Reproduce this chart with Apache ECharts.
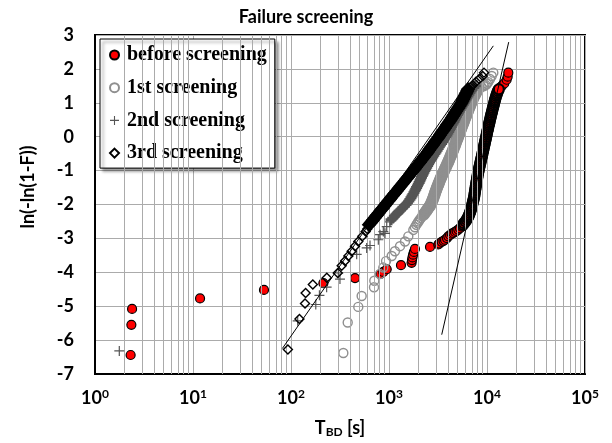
<!DOCTYPE html>
<html>
<head>
<meta charset="utf-8">
<script src="https://cdn.jsdelivr.net/npm/echarts@6/dist/echarts.min.js"></script>
<style>
  html, body { margin: 0; padding: 0; background: #fff; }
  #chart { width: 612px; height: 443px; }
</style>
</head>
<body>
<div id="chart"></div>
<script>
// Weibull plot of breakdown times: [T_BD (s), ln(-ln(1-F))]
// Each sample is split into its isolated points and the crowded middle run,
// which is drawn with heavier outlines so the overlapping markers read as a band.
const beforeScreening = [
  [2.31,-6.44],[2.35,-5.55],[2.39,-5.08],[11.8,-4.77],[53,-4.52],[214,-4.32],[450,-4.17],
  [820,-4.05],[875,-3.99],[948,-3.91],[1325,-3.79],[1700,-3.72],[1715,-3.64],[1735,-3.56],
  [1760,-3.48],[1795,-3.40],[1840,-3.31],[2620,-3.25],[3185,-3.18],[3260,-3.15],[3450,-3.10],
  [3600,-3.07],[3727,-3.04],[3900,-2.99],[4030,-2.94],[4200,-2.90],[4365,-2.86],[4540,-2.84],
  [4710,-2.81],[4900,-2.78],[5095,-2.74],[5300,-2.70],[5520,-2.65],
  [13600,1.45],[14200,1.50],[15000,1.57],[15860,1.68],[16250,1.77],[16500,1.89]
];
const beforeScreeningDense = [
  [5680,-2.60],[5830,-2.55],[6030,-2.50],[6190,-2.45],[6330,-2.40],[6470,-2.35],[6580,-2.30],
  [6680,-2.25],[6770,-2.20],[6860,-2.15],[6950,-2.10],[7020,-2.05],[7085,-2.00],[7150,-1.95],
  [7215,-1.90],[7290,-1.85],[7370,-1.80],[7415,-1.75],[7460,-1.70],[7505,-1.65],[7550,-1.60],
  [7600,-1.55],[7650,-1.50],[7700,-1.45],[7750,-1.40],[7800,-1.35],[7855,-1.30],[7910,-1.25],
  [7965,-1.20],[8020,-1.15],[8080,-1.10],[8140,-1.05],[8210,-1.00],[8285,-0.95],[8360,-0.90],
  [8435,-0.85],[8510,-0.80],[8590,-0.75],[8670,-0.70],[8750,-0.65],[8830,-0.60],[8910,-0.55],
  [8990,-0.50],[9070,-0.45],[9150,-0.40],[9230,-0.35],[9310,-0.30],[9390,-0.25],[9475,-0.20],
  [9560,-0.15],[9645,-0.10],[9730,-0.05],[9815,0.00],[9900,0.05],[9985,0.10],[10070,0.15],
  [10160,0.20],[10250,0.25],[10340,0.30],[10440,0.35],[10540,0.40],[10640,0.45],[10740,0.50],
  [10840,0.55],[10945,0.60],[11050,0.65],[11160,0.70],[11270,0.75],[11380,0.80],[11500,0.85],
  [11620,0.90],[11740,0.95],[11860,1.00],[11980,1.05],[12110,1.10],[12250,1.15],[12400,1.20],
  [12560,1.25],[12740,1.30],[12950,1.35],[13200,1.40]
];

const firstScreening = [
  [342,-6.38],[379,-5.48],[486,-5.02],[526,-4.70],[703,-4.44],[708,-4.25],[809,-4.05],
  [875,-3.86],[933,-3.67],[1065,-3.52],[1150,-3.38],[1295,-3.23],[1456,-3.09],[1574,-2.94],
  [1771,-2.75],[1840,-2.67],[1900,-2.60],[1950,-2.55],[2000,-2.50],[2055,-2.45],[2115,-2.40],
  [2185,-2.35],
  [8400,1.45],[8800,1.47],[9300,1.49],[9700,1.52],[10000,1.56],[10310,1.61],[10740,1.70],
  [11170,1.79],[11600,1.89]
];
const firstScreeningDense = [
  [2255,-2.30],[2325,-2.25],[2390,-2.20],[2455,-2.15],[2530,-2.10],[2600,-2.05],[2655,-2.00],
  [2710,-1.95],[2755,-1.90],[2800,-1.85],[2842,-1.80],[2880,-1.75],[2920,-1.70],[2958,-1.65],
  [3000,-1.60],[3043,-1.55],[3090,-1.50],[3140,-1.45],[3190,-1.40],[3240,-1.35],[3290,-1.30],
  [3345,-1.25],[3400,-1.20],[3460,-1.15],[3525,-1.10],[3592,-1.05],[3660,-1.00],[3728,-0.95],
  [3795,-0.90],[3865,-0.85],[3935,-0.80],[4010,-0.75],[4080,-0.70],[4148,-0.65],[4215,-0.60],
  [4285,-0.55],[4355,-0.50],[4425,-0.45],[4495,-0.40],[4565,-0.35],[4635,-0.30],[4705,-0.25],
  [4775,-0.20],[4848,-0.15],[4925,-0.10],[5000,-0.05],[5075,0.00],[5150,0.05],[5228,0.10],
  [5305,0.15],[5383,0.20],[5460,0.25],[5540,0.30],[5625,0.35],[5715,0.40],[5805,0.45],
  [5895,0.50],[5985,0.55],[6080,0.60],[6175,0.65],[6270,0.70],[6370,0.75],[6470,0.80],
  [6575,0.85],[6680,0.90],[6790,0.95],[6900,1.00],[7020,1.05],[7150,1.10],[7280,1.15],
  [7420,1.20],[7570,1.25],[7730,1.30],[7900,1.35],[8080,1.40]
];

const secondScreening = [
  [1.77,-6.32],[117,-5.43],[179,-4.95],[195,-4.68],[231,-4.44],[316,-4.20],[304,-4.02],
  [468,-3.47],[592,-3.28],[640,-3.21],[778,-3.04],[810,-2.89],[910,-2.85],[875,-2.80],
  [948,-2.65],[1024,-2.51]
];
const secondScreeningDense = [
  [1050,-2.45],[1092,-2.40],[1135,-2.35],[1180,-2.30],[1224,-2.25],[1270,-2.20],[1322,-2.15],
  [1378,-2.10],[1436,-2.05],[1490,-2.00],[1540,-1.95],[1592,-1.90],[1635,-1.85],[1676,-1.80],
  [1716,-1.75],[1756,-1.70],[1796,-1.65],[1835,-1.60],[1874,-1.55],[1912,-1.50],[1951,-1.45],
  [1990,-1.40],[2030,-1.35],[2068,-1.30],[2106,-1.25],[2146,-1.20],[2187,-1.15],[2228,-1.10],
  [2272,-1.05],[2320,-1.00],[2371,-0.95],[2424,-0.90],[2478,-0.85],[2535,-0.80],[2595,-0.75],
  [2658,-0.70],[2725,-0.65],[2795,-0.60],[2866,-0.55],[2940,-0.50],[3015,-0.45],[3095,-0.40],
  [3175,-0.35],[3258,-0.30],[3345,-0.25],[3440,-0.20],[3540,-0.15],[3640,-0.10],[3725,-0.05],
  [3810,0.00],[3895,0.05],[3980,0.10],[4065,0.15],[4148,0.20],[4230,0.25],[4320,0.30],
  [4410,0.35],[4505,0.40],[4600,0.45],[4690,0.50],[4785,0.55],[4880,0.60],[4985,0.65],
  [5095,0.70],[5205,0.75],[5320,0.80],[5445,0.85],[5575,0.90],[5705,0.95],[5840,1.00],
  [5970,1.05],[6100,1.10],[6240,1.15],[6385,1.20],[6530,1.25],[6690,1.30],[6860,1.35],
  [7050,1.40],[7330,1.45],[7600,1.50]
];

const thirdScreening = [
  [93,-6.28],[122,-5.38],[139,-4.92],[141,-4.61],[167,-4.36],[232,-4.16],[300,-4.02],
  [329,-3.81],[356,-3.67],[385,-3.52],[416,-3.38],[450,-3.23],[486,-3.09],[535,-2.94],
  [578,-2.80],[600,-2.72],
  [6750,1.46],[7150,1.52],[7720,1.62],[8340,1.70],[9040,1.79],[9320,1.89]
];
const thirdScreeningDense = [
  [625,-2.60],[646,-2.55],[668,-2.50],[690,-2.45],[713,-2.40],[736,-2.35],[760,-2.30],
  [785,-2.25],[811,-2.20],[838,-2.15],[866,-2.10],[894,-2.05],[923,-2.00],[954,-1.95],
  [986,-1.90],[1018,-1.85],[1050,-1.80],[1085,-1.75],[1122,-1.70],[1160,-1.65],[1198,-1.60],
  [1238,-1.55],[1279,-1.50],[1321,-1.45],[1364,-1.40],[1409,-1.35],[1456,-1.30],[1503,-1.25],
  [1552,-1.20],[1603,-1.15],[1656,-1.10],[1712,-1.05],[1771,-1.00],[1825,-0.95],[1880,-0.90],
  [1941,-0.85],[2004,-0.80],[2067,-0.75],[2132,-0.70],[2200,-0.65],[2270,-0.60],[2344,-0.55],
  [2420,-0.50],[2489,-0.45],[2560,-0.40],[2636,-0.35],[2714,-0.30],[2793,-0.25],[2873,-0.20],
  [2958,-0.15],[3046,-0.10],[3136,-0.05],[3228,0.00],[3319,0.05],[3412,0.10],[3508,0.15],
  [3606,0.20],[3710,0.25],[3817,0.30],[3921,0.35],[4029,0.40],[4144,0.45],[4263,0.50],
  [4374,0.55],[4487,0.60],[4597,0.65],[4710,0.70],[4836,0.75],[4966,0.80],[5093,0.85],
  [5224,0.90],[5358,0.95],[5495,1.00],[5597,1.05],[5702,1.10],[5813,1.15],[5927,1.20],
  [6045,1.25],[6166,1.30],[6280,1.35],[6397,1.40]
];

// straight-line fits drawn on the Weibull scale
const fitThird = [[81.5,-6.25],[11600,2.68]];
const fitBefore = [[3450,-5.84],[16650,2.79]];

// axis ranges and grid values
const xDecades = [1, 10, 100, 1000, 10000, 100000];
const minorSteps = [2, 3, 4, 5, 6, 7, 8, 9];
const yMin = -7, yMax = 3;

const minorGrid = [];
xDecades.slice(0, -1).forEach(d => minorSteps.forEach(m => minorGrid.push({ xAxis: d * m })));

const gridColor = '#ababab';
const labelFont = 'Lato, "Open Sans", sans-serif';
const plusPath = 'path://M0,4.4H10V5.6H0Z M4.4,0H5.6V10H4.4Z';
const plusPathHeavy = 'path://M0,3.7H10V6.3H0Z M3.7,0H6.3V10H3.7Z';

const redStyle = { color: '#ff0000', borderColor: '#000', opacity: 1 };
const ringStyle = { color: 'rgba(255,255,255,0)', borderColor: '#8f8f8f', opacity: 1 };
const diamondStyle = { color: 'rgba(255,255,255,0)', borderColor: '#000', opacity: 1 };

const chart = echarts.init(document.getElementById('chart'), null, { renderer: 'canvas' });

chart.setOption({
  animation: false,
  backgroundColor: '#fff',
  title: {
    text: 'Failure screening',
    left: 'center',
    top: 3,
    textStyle: { fontFamily: labelFont, fontWeight: 'bold', fontSize: 18, color: '#000' }
  },
  grid: {
    left: 95, right: 27, top: 35, bottom: 63,
    show: true, borderColor: '#000', borderWidth: 2, backgroundColor: '#fff'
  },
  legend: {
    orient: 'vertical',
    left: 100, top: 39,
    padding: [6, 8, 5, 9],
    itemGap: 12.7,
    itemWidth: 9, itemHeight: 9,
    backgroundColor: '#fff',
    borderColor: '#000', borderWidth: 1,
    shadowColor: 'rgba(0,0,0,0.45)', shadowBlur: 3, shadowOffsetX: 3, shadowOffsetY: 3,
    textStyle: {
      fontFamily: '"Liberation Serif", "Times New Roman", serif',
      fontWeight: 'bold', fontSize: 20, color: '#000', lineHeight: 20,
      padding: [0, 0, 0, 3]
    },
    data: ['before screening', '1st screening', '2nd screening', '3rd screening']
  },
  xAxis: {
    type: 'log',
    logBase: 10,
    min: 1, max: 100000,
    axisLine: { show: true, onZero: false, lineStyle: { color: '#000', width: 2 } },
    axisTick: { show: false },
    splitLine: { show: true, lineStyle: { color: gridColor, width: 1 } },
    axisLabel: {
      margin: 14,
      formatter: v => '{b|10}{s|' + Math.round(Math.log10(v)) + '}',
      rich: {
        b: { fontFamily: labelFont, fontWeight: 'bold', fontSize: 18, color: '#000', lineHeight: 20 },
        s: { fontFamily: labelFont, fontWeight: 'bold', fontSize: 12, color: '#000', lineHeight: 12, verticalAlign: 'top' }
      }
    },
    name: '{t|T}{sub|BD}{t| [s]}',
    nameLocation: 'middle',
    nameGap: 44,
    nameTextStyle: {
      rich: {
        t: { fontFamily: labelFont, fontWeight: 'bold', fontSize: 18, color: '#000', lineHeight: 20 },
        sub: { fontFamily: labelFont, fontWeight: 'bold', fontSize: 12, color: '#000', lineHeight: 12, verticalAlign: 'bottom' }
      }
    }
  },
  yAxis: {
    type: 'value',
    min: yMin, max: yMax, interval: 1,
    axisLine: { show: true, onZero: false, lineStyle: { color: '#000', width: 2 } },
    axisTick: { show: false },
    splitLine: { show: true, lineStyle: { color: gridColor, width: 1 } },
    axisLabel: {
      margin: 21,
      fontFamily: labelFont, fontWeight: 'bold', fontSize: 18, color: '#000'
    }
  },
  graphic: [{
    type: 'text',
    x: 28, y: 187,
    rotation: Math.PI / 2,
    style: {
      text: 'ln(-ln(1-F))',
      fontFamily: labelFont, fontWeight: 'bold', fontSize: 18, fill: '#000',
      align: 'center', verticalAlign: 'middle'
    }
  }],
  series: [
    {
      name: 'minor grid',
      type: 'line',
      data: [],
      silent: true,
      z: 1,
      markLine: {
        silent: true,
        symbol: ['none', 'none'],
        label: { show: false },
        lineStyle: { color: gridColor, width: 1, type: 'solid' },
        data: minorGrid
      }
    },
    {
      name: 'before screening', type: 'scatter', symbol: 'circle', symbolSize: 9,
      itemStyle: Object.assign({ borderWidth: 1.2 }, redStyle),
      data: beforeScreening, z: 3
    },
    {
      name: 'before screening', type: 'scatter', symbol: 'circle', symbolSize: 10,
      itemStyle: Object.assign({ borderWidth: 2.2 }, redStyle),
      data: beforeScreeningDense, z: 3
    },
    {
      name: '1st screening', type: 'scatter', symbol: 'circle', symbolSize: 9,
      itemStyle: Object.assign({ borderWidth: 1.4 }, ringStyle),
      data: firstScreening, z: 4
    },
    {
      name: '1st screening', type: 'scatter', symbol: 'circle', symbolSize: 9,
      itemStyle: Object.assign({ borderWidth: 3.2 }, ringStyle),
      data: firstScreeningDense, z: 4
    },
    {
      name: '2nd screening', type: 'scatter', symbol: plusPath, symbolSize: 10,
      itemStyle: { color: '#555555', opacity: 1 },
      data: secondScreening, z: 5
    },
    {
      name: '2nd screening', type: 'scatter', symbol: plusPathHeavy, symbolSize: 11,
      itemStyle: { color: '#555555', opacity: 1 },
      data: secondScreeningDense, z: 5
    },
    {
      name: '3rd screening', type: 'scatter', symbol: 'diamond', symbolSize: [9, 9],
      itemStyle: Object.assign({ borderWidth: 1.4 }, diamondStyle),
      data: thirdScreening, z: 6
    },
    {
      name: '3rd screening', type: 'scatter', symbol: 'diamond', symbolSize: [10, 10],
      itemStyle: Object.assign({ borderWidth: 3.2 }, diamondStyle),
      data: thirdScreeningDense, z: 6
    },
    {
      name: 'fit 3rd', type: 'line', data: fitThird, symbol: 'none',
      lineStyle: { color: '#000', width: 1 }, silent: true, z: 7
    },
    {
      name: 'fit before', type: 'line', data: fitBefore, symbol: 'none',
      lineStyle: { color: '#000', width: 1 }, silent: true, z: 7
    }
  ]
});
</script>
</body>
</html>
